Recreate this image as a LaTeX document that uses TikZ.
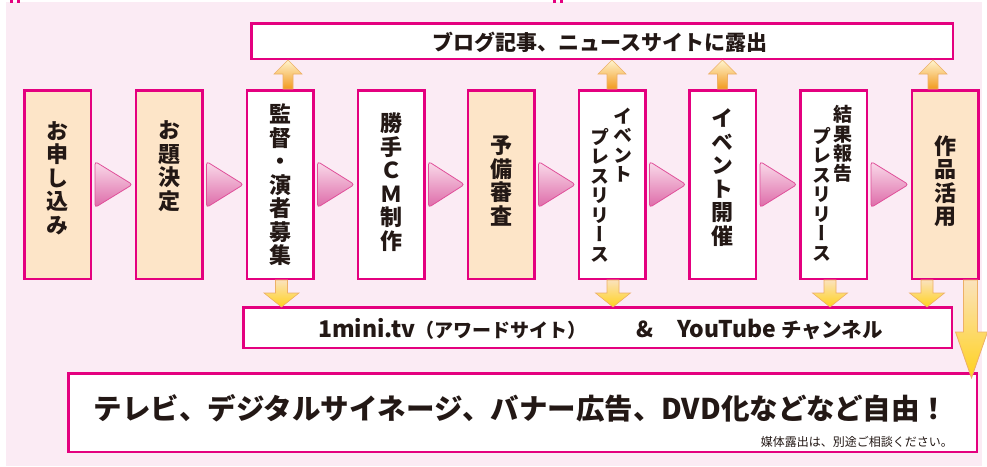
\documentclass[tikz,border=0pt]{standalone}
\usepackage{fontspec}
\usetikzlibrary{calc}
\newfontfamily\jp{Noto Sans CJK JP}
\newfontfamily\jpv[RawFeature=+vert]{Noto Sans CJK JP}
\definecolor{mag}{HTML}{E4007F}
\definecolor{bgpink}{HTML}{FBEBF4}
\definecolor{peach}{HTML}{FDE5C8}
\definecolor{ink}{HTML}{231815}
\definecolor{trilight}{HTML}{FADBEA}
\definecolor{trimid}{HTML}{EC9BC6}
\definecolor{tridark}{HTML}{DD6AA8}
\definecolor{triedge}{HTML}{E0509A}
\definecolor{arrpale}{HTML}{FFF4CF}
\definecolor{arrorange}{HTML}{F29A1E}
\definecolor{arredge}{HTML}{EDB067}
\definecolor{arryellow}{HTML}{FFD21F}
\definecolor{arrlight}{HTML}{FBE2BC}
\newcommand\PinkTri[2]{\shade[tri] let \p1=(#1.east), \p2=(#2.west) in
  (\x1+3pt,\y1+23pt) -- (\x2-2pt,\y1) -- (\x1+3pt,\y1-23pt) -- cycle;}
\newcommand\UpArr[2]{\shade[uparr] let \p1=($(#1.north)+(#2,0)$), \p2=(top.south) in
  (\x1-5pt,\y1) -- (\x1-5pt,\y2-14pt) -- (\x1-14pt,\y2-14pt) -- (\x1,\y2)
  -- (\x1+14pt,\y2-14pt) -- (\x1+5pt,\y2-14pt) -- (\x1+5pt,\y1) -- cycle;}
\newcommand\DnArr[2]{\shade[dnarr] let \p1=($(#1.south)+(#2,0)$), \p2=(mid.north) in
  (\x1-6pt,\y1) -- (\x1-6pt,\y2+13pt) -- (\x1-17.5pt,\y2+13pt) -- (\x1,\y2-1pt)
  -- (\x1+17.5pt,\y2+13pt) -- (\x1+6pt,\y2+13pt) -- (\x1+6pt,\y1) -- cycle;}
\begin{document}
\begin{tikzpicture}[x=1pt,y=-1pt,
  box/.style={draw=mag, line width=2.5pt, fill=white, minimum width=66.5pt,
    minimum height=188.5pt, inner sep=0pt},
  pbox/.style={box, fill=peach},
  wide/.style={draw=mag, line width=2.5pt, fill=white, inner sep=0pt},
  vtxt/.style={font={\jpv\bfseries\fontsize{22}{23.5}\selectfont}, align=center,
    inner sep=0pt, text=ink},
  vsmall/.style={font={\jpv\bfseries\fontsize{19}{19.5}\selectfont}, align=center,
    inner sep=0pt, text=ink},
  htxt/.style={inner sep=0pt, text=ink},
  tri/.style={rounded corners=3pt, draw=triedge, line width=0.8pt,
    top color=trilight, middle color=trimid, bottom color=tridark},
  uparr/.style={draw=arredge, line width=0.6pt, top color=arrpale, bottom color=arrorange},
  dnarr/.style={draw=arredge, line width=0.6pt, top color=arrlight, middle color=arrorange, bottom color=arryellow},
  bigarr/.style={draw=arredge, line width=0.8pt, top color=arrlight, middle color=arrorange, bottom color=arryellow}]
\useasboundingbox (0,0) rectangle (987,466);
\fill[bgpink] (6,2) rectangle (982,466);
% crop marks
\fill[mag] (10,0) rectangle (13,3);
\fill[mag] (17,0) rectangle (20,3);
\fill[mag] (553,0) rectangle (556,3);
\fill[mag] (560,0) rectangle (563,3);

% wide boxes
\node[wide, minimum width=701.5pt, minimum height=35.5pt] (top) at (602,41) {};
\node[wide, minimum width=708.5pt, minimum height=40.5pt] (mid) at (597.5,327.5) {};
\node[wide, minimum width=908.5pt, minimum height=78.5pt] (big) at (522.5,412.5) {};

% step boxes
\node[pbox] (b1) at (57.5,184.5) {};
\node[pbox] (b2) at (169,184.5) {};
\node[box]  (b3) at (280,184.5) {};
\node[box]  (b4) at (391,184.5) {};
\node[pbox] (b5) at (501,184.5) {};
\node[box]  (b6) at (612,184.5) {};
\node[box]  (b7) at (722.5,184.5) {};
\node[box]  (b8) at (833.5,184.5) {};
\node[pbox] (b9) at (945,184.5) {};

% pink triangles
\PinkTri{b1}{b2}
\PinkTri{b2}{b3}
\PinkTri{b3}{b4}
\PinkTri{b4}{b5}
\PinkTri{b5}{b6}
\PinkTri{b6}{b7}
\PinkTri{b7}{b8}
\PinkTri{b8}{b9}

% up arrows
\UpArr{b3}{8}
\UpArr{b6}{0}
\UpArr{b7}{0}
\UpArr{b9}{-12}
% down arrows
\DnArr{b3}{1.5}
\DnArr{b6}{1}
\DnArr{b8}{-3.5}
\DnArr{b9}{-18}
% big arrow
\shade[bigarr] let \p1=(b9.south east), \p2=(big.north) in
  (\x1-16pt,\y1) -- (\x1-16pt,\y2+40pt) -- (\x1-24pt,\y2+40pt) -- (\x1-8pt,\y2-6pt)
  -- (\x1+8pt,\y2+40pt) -- (\x1-2pt,\y2+40pt) -- (\x1-2pt,\y1) -- cycle;

% texts in step boxes
\node[vtxt] (t1) at (57.5,178) {お\\申\\し\\込\\み};
\node[vtxt] (t2) at (169,166) {お\\題\\決\\定};
\node[vtxt] (t3) at (280,185) {監\\督\\・\\演\\者\\募\\集};
\node[vtxt] (t4) at (391,182) {勝\\手\\Ｃ\\Ｍ\\制\\作};
\node[vtxt] (t5) at (501,181) {予\\備\\審\\査};
\node[vsmall] (t6a) at (623,145) {イ\\ベ\\ン\\ト};
\node[vsmall] (t6b) at (600,195) {プ\\レ\\ス\\リ\\リ\\ー\\ス};
\node[vtxt] (t7) at (722.5,177.5) {イ\\ベ\\ン\\ト\\開\\催};
\node[vsmall] (t8a) at (843,144) {結\\果\\報\\告};
\node[vsmall] (t8b) at (822,194) {プ\\レ\\ス\\リ\\リ\\ー\\ス};
\node[vtxt] (t9) at (945,181) {作\\品\\活\\用};

% texts in wide boxes
\node[htxt, font={\jp\bfseries\fontsize{21}{24}\selectfont}] (ttop) at (600,42) {ブログ記事、ニュースサイトに露出};
\node[htxt, anchor=west, font={\jp\bfseries\fontsize{19}{22}\selectfont}] (tm1) at (318,329)
  {{\fontsize{23}{24}\selectfont 1mini.tv}（アワードサイト）};
\node[htxt, font={\jp\bfseries\fontsize{22}{24}\selectfont}] (tm2) at (645,329) {\&};
\node[htxt, anchor=west, font={\jp\bfseries\fontsize{20.5}{22}\selectfont}] (tm3) at (677,329)
  {{\fontsize{23}{24}\selectfont YouTube} チャンネル};
\node[htxt, font={\jp\bfseries\fontsize{28.5}{30}\selectfont}] (tbig) at (521,408)
  {テレビ、デジタルサイネージ、バナー広告、DVD化などなど自由！};
\node[htxt, anchor=east, font={\jp\fontsize{12}{14}\selectfont}] (tnote) at (953,442)
  {媒体露出は、別途ご相談ください。};
\end{tikzpicture}
\end{document}
